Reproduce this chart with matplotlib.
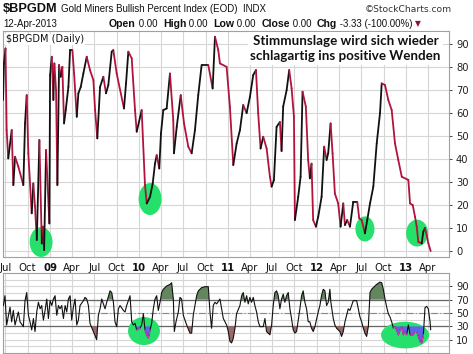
import numpy as np
import matplotlib
matplotlib.use('Agg')
import matplotlib.pyplot as plt
import matplotlib.dates as mdates
from matplotlib.collections import LineCollection
from matplotlib.patches import Ellipse
from datetime import datetime

# ---------------- data (time as decimal year) ----------------
bpi_time = [2008.472, 2008.483, 2008.500, 2008.513, 2008.531, 2008.570, 2008.588, 2008.607,
            2008.644, 2008.700, 2008.719, 2008.738, 2008.756, 2008.794, 2008.812, 2008.831,
            2008.851, 2008.880, 2008.907, 2008.918, 2008.933, 2008.955, 2008.992, 2009.000,
            2009.019, 2009.037, 2009.048, 2009.067, 2009.082, 2009.101, 2009.120, 2009.138,
            2009.157, 2009.176, 2009.206, 2009.225, 2009.251, 2009.270, 2009.300, 2009.318,
            2009.345, 2009.374, 2009.412, 2009.449, 2009.487, 2009.506, 2009.531, 2009.562,
            2009.599, 2009.629, 2009.655, 2009.693, 2009.711, 2009.749, 2009.831, 2009.854,
            2009.880, 2009.918, 2009.955, 2009.974, 2010.030, 2010.067, 2010.087, 2010.124,
            2010.154, 2010.180, 2010.199, 2010.228, 2010.247, 2010.273, 2010.311, 2010.348,
            2010.385, 2010.393, 2010.424, 2010.469, 2010.506, 2010.554, 2010.592, 2010.629,
            2010.666, 2010.704, 2010.779, 2010.828, 2010.854, 2010.891, 2010.910, 2010.985,
            2011.022, 2011.060, 2011.098, 2011.135, 2011.172, 2011.210, 2011.247, 2011.284,
            2011.315, 2011.340, 2011.367, 2011.397, 2011.435, 2011.472, 2011.491, 2011.517,
            2011.547, 2011.584, 2011.603, 2011.621, 2011.660, 2011.689, 2011.716, 2011.742,
            2011.753, 2011.790, 2011.817, 2011.839, 2011.876, 2011.902, 2011.921, 2011.940,
            2011.958, 2011.989, 2012.015, 2012.053, 2012.082, 2012.109, 2012.127, 2012.154,
            2012.176, 2012.202, 2012.239, 2012.266, 2012.296, 2012.315, 2012.340, 2012.371,
            2012.408, 2012.453, 2012.475, 2012.502, 2012.539, 2012.565, 2012.596, 2012.633,
            2012.671, 2012.708, 2012.727, 2012.764, 2012.801, 2012.839, 2012.876, 2012.913,
            2012.952, 2013.026, 2013.045, 2013.075, 2013.101, 2013.120, 2013.138, 2013.176,
            2013.194, 2013.213, 2013.233, 2013.251, 2013.277]
bpi_value = [65.7, 81.6, 88.1, 52.6, 40.3, 52.6, 28.7, 41.0,
             36.7, 28.7, 55.5, 67.8, 42.5, 16.4, 29.4, 19.3,
             4.8, 48.3, 3.3, 10.6, 0.4, 43.9, 12.0, 76.5,
             84.5, 65.7, 81.6, 70.0, 28.7, 80.9, 75.8, 80.1,
             55.5, 61.3, 71.4, 87.4, 87.4, 77.2, 58.4, 68.6,
             71.4, 77.2, 84.5, 78.7, 74.3, 61.3, 49.0, 71.4,
             75.8, 68.6, 72.2, 86.7, 87.4, 77.2, 62.0, 72.9,
             86.7, 83.8, 61.3, 51.9, 61.3, 28.7, 20.7, 23.6,
             29.4, 38.1, 41.7, 35.9, 51.2, 61.3, 62.0, 77.2,
             57.0, 42.5, 54.0, 67.8, 55.5, 45.4, 42.5, 52.6,
             67.8, 80.9, 80.9, 70.7, 93.2, 87.4, 81.6, 80.1,
             62.8, 37.4, 46.8, 52.6, 63.5, 60.0, 67.0, 76.5,
             78.7, 60.0, 44.6, 49.7, 44.6, 32.3, 28.0, 30.9,
             54.0, 56.1, 43.5, 62.8, 70.0, 78.7, 70.7, 58.4,
             13.5, 23.6, 32.3, 69.3, 62.8, 39.6, 31.6, 38.0,
             13.5, 10.6, 14.9, 23.6, 45.4, 39.6, 42.5, 55.5,
             42.5, 25.0, 20.7, 10.6, 20.7, 11.3, 13.5, 10.6,
             21.4, 21.4, 14.2, 13.5, 7.7, 13.5, 20.7, 28.0,
             46.8, 60.0, 72.9, 72.2, 65.7, 61.3, 46.8, 39.6,
             32.3, 30.9, 20.7, 20.0, 14.9, 10.6, 4.0, 3.3,
             8.4, 10.0, 6.7, 3.3, 0.0]

rsi_time = [2008.476, 2008.494, 2008.513, 2008.551, 2008.569, 2008.588, 2008.607, 2008.644,
            2008.663, 2008.700, 2008.719, 2008.738, 2008.757, 2008.775, 2008.794, 2008.813,
            2008.831, 2008.850, 2008.869, 2008.888, 2008.906, 2008.925, 2008.944, 2008.963,
            2008.981, 2009.000, 2009.019, 2009.037, 2009.056, 2009.075, 2009.094, 2009.112,
            2009.131, 2009.150, 2009.169, 2009.187, 2009.206, 2009.225, 2009.243, 2009.262,
            2009.281, 2009.300, 2009.318, 2009.337, 2009.375, 2009.393, 2009.412, 2009.431,
            2009.449, 2009.487, 2009.524, 2009.543, 2009.562, 2009.581, 2009.599, 2009.618,
            2009.637, 2009.674, 2009.693, 2009.712, 2009.730, 2009.749, 2009.768, 2009.787,
            2009.824, 2009.843, 2009.861, 2009.899, 2009.918, 2009.936, 2009.955, 2009.974,
            2010.011, 2010.030, 2010.049, 2010.067, 2010.086, 2010.105, 2010.124, 2010.142,
            2010.161, 2010.180, 2010.199, 2010.217, 2010.236, 2010.255, 2010.273, 2010.311,
            2010.348, 2010.367, 2010.386, 2010.397, 2010.416, 2010.442, 2010.461, 2010.479,
            2010.498, 2010.536, 2010.573, 2010.592, 2010.610, 2010.648, 2010.667, 2010.704,
            2010.742, 2010.779, 2010.798, 2010.816, 2010.835, 2010.854, 2010.873, 2010.910,
            2010.948, 2010.985, 2011.004, 2011.022, 2011.041, 2011.060, 2011.079, 2011.097,
            2011.135, 2011.154, 2011.172, 2011.191, 2011.210, 2011.228, 2011.247, 2011.266,
            2011.285, 2011.303, 2011.322, 2011.341, 2011.360, 2011.397, 2011.416, 2011.434,
            2011.453, 2011.472, 2011.491, 2011.509, 2011.528, 2011.547, 2011.566, 2011.584,
            2011.603, 2011.622, 2011.640, 2011.659, 2011.678, 2011.697, 2011.715, 2011.734,
            2011.753, 2011.772, 2011.809, 2011.828, 2011.846, 2011.865, 2011.884, 2011.903,
            2011.921, 2011.940, 2011.959, 2011.978, 2012.015, 2012.034, 2012.052, 2012.071,
            2012.090, 2012.109, 2012.127, 2012.146, 2012.157, 2012.184, 2012.202, 2012.221,
            2012.240, 2012.258, 2012.277, 2012.296, 2012.315, 2012.333, 2012.352, 2012.371,
            2012.390, 2012.408, 2012.446, 2012.464, 2012.483, 2012.502, 2012.521, 2012.539,
            2012.558, 2012.577, 2012.596, 2012.614, 2012.633, 2012.670, 2012.708, 2012.727,
            2012.745, 2012.764, 2012.783, 2012.801, 2012.820, 2012.839, 2012.858, 2012.876,
            2012.895, 2012.914, 2012.933, 2012.951, 2012.970, 2012.989, 2013.007, 2013.026,
            2013.045, 2013.082, 2013.101, 2013.120, 2013.139, 2013.157, 2013.176, 2013.195,
            2013.213, 2013.232, 2013.251, 2013.270, 2013.277]
rsi_value = [61.2, 75.9, 32.0, 58.8, 36.8, 53.9, 32.0, 51.5,
             36.8, 29.5, 68.5, 80.7, 46.6, 36.8, 24.6, 41.7,
             22.2, 51.5, 66.1, 56.3, 61.2, 39.3, 53.9, 71.0,
             41.7, 68.5, 61.2, 71.0, 75.9, 46.6, 61.2, 56.3,
             61.2, 41.7, 61.2, 51.5, 71.0, 75.9, 39.3, 58.8,
             71.0, 32.0, 39.3, 61.2, 68.5, 73.4, 71.0, 61.2,
             34.4, 22.2, 10.0, 46.6, 56.3, 71.0, 63.7, 56.3,
             66.1, 83.2, 80.7, 66.1, 36.8, 29.5, 56.3, 61.2,
             53.9, 51.5, 61.2, 75.9, 36.8, 32.0, 34.4, 24.6,
             27.1, 32.0, 49.0, 24.6, 17.3, 12.4, 24.6, 34.4,
             56.3, 71.0, 75.9, 53.9, 66.1, 80.7, 85.6, 90.5,
             92.9, 95.4, 71.0, 22.2, 36.8, 51.5, 73.4, 71.0,
             46.6, 32.0, 19.8, 19.8, 46.6, 75.9, 83.2, 88.0,
             89.5, 89.5, 51.5, 27.1, 61.2, 66.1, 63.7, 71.0,
             41.7, 32.0, 22.2, 7.6, 5.1, 12.4, 27.1, 49.0,
             61.2, 75.9, 80.7, 66.1, 75.9, 63.7, 73.4, 66.1,
             73.4, 61.2, 51.5, 36.8, 29.5, 29.5, 41.7, 22.2,
             19.8, 17.3, 32.0, 61.2, 80.7, 83.2, 75.9, 56.3,
             71.0, 78.3, 66.1, 75.9, 80.7, 56.3, 41.7, 24.6,
             19.8, 22.2, 56.3, 75.9, 83.2, 66.1, 56.3, 36.8,
             36.8, 27.1, 22.2, 29.5, 51.5, 61.2, 75.9, 85.6,
             83.2, 61.2, 66.1, 85.6, 66.1, 41.7, 32.0, 27.1,
             24.6, 22.2, 14.9, 22.2, 36.8, 46.6, 56.3, 53.9,
             61.2, 68.5, 68.5, 56.3, 44.1, 36.8, 27.1, 19.8,
             14.9, 29.5, 80.7, 85.6, 88.0, 92.9, 96.3, 95.4,
             85.6, 71.0, 58.8, 49.0, 44.1, 36.8, 27.1, 29.5,
             24.6, 17.3, 24.6, 29.5, 17.3, 22.2, 17.3, 32.0,
             17.3, 17.3, 22.2, 22.2, 14.9, 7.6, 5.1, 17.3,
             58.0, 60.0, 56.0, 36.8, 25.0]

tick_dates = ['2008-07-01', '2008-10-01', '2009-01-01', '2009-04-01', '2009-07-01', '2009-10-01',
              '2010-01-01', '2010-04-01', '2010-07-01', '2010-10-01', '2011-01-01', '2011-04-01',
              '2011-07-01', '2011-10-01', '2012-01-01', '2012-04-01', '2012-07-01', '2012-10-01',
              '2013-01-01', '2013-04-01']
tick_labels = ['Jul', 'Oct', '09', 'Apr', 'Jul', 'Oct', '10', 'Apr', 'Jul', 'Oct', '11', 'Apr',
               'Jul', 'Oct', '12', 'Apr', 'Jul', 'Oct', '13', 'Apr']

# annotation ellipses: (decimal year, value, width in days, height in value units)
main_circles = [(2008.899, 3.9, 94, 13.0), (2010.124, 22.6, 94, 13.9),
                (2012.539, 9.6, 78, 10.9), (2013.124, 7.8, 90, 11.7)]
rsi_circles = [(2010.056, 22.9, 131, 42), (2012.989, 16.9, 197, 40)]
rsi_zones = [(2009.92, 2010.16), (2012.84, 2013.26)]


def yr2num(vals):
    out = []
    for v in np.atleast_1d(np.asarray(vals, float)):
        yi = int(np.floor(v))
        a = mdates.date2num(datetime(yi, 1, 1))
        b = mdates.date2num(datetime(yi + 1, 1, 1))
        out.append(a + (v - yi) * (b - a))
    return np.array(out)


W, H = 473, 354
fig = plt.figure(figsize=(W / 100, H / 100), dpi=100)
fig.patch.set_facecolor('white')

def px_axes(x0, y0, x1, y1):
    return fig.add_axes([x0 / W, 1 - y1 / H, (x1 - x0) / W, (y1 - y0) / H])

ax1 = px_axes(3, 31, 449, 257)
ax2 = px_axes(3, 273, 449, 353)

xmin, xmax = yr2num([2008.472, 2013.483])
tick_nums = mdates.datestr2num(tick_dates)
GRID = '#d6d6d6'
BORDER = '#a0a0a0'

for ax in (ax1, ax2):
    ax.set_xlim(xmin, xmax)
    ax.set_xticks(tick_nums)
    for t in tick_nums:
        ax.axvline(t, color=GRID, lw=0.8, zorder=0)
    for s in ax.spines.values():
        s.set_color(BORDER)
        s.set_linewidth(0.8)
    ax.yaxis.tick_right()
    ax.tick_params(axis='y', length=2, pad=3, labelsize=7.2, colors='#222222', width=0.6)
    ax.tick_params(axis='x', length=0)

# ---- main panel ----
ax1.set_ylim(-2.6, 95.7)
for v in range(0, 100, 10):
    ax1.axhline(v, color=GRID, lw=0.8, zorder=0)
ax1.set_yticks(range(0, 100, 10))

for (cx, cy, w, h) in main_circles:
    ax1.add_patch(Ellipse((yr2num(cx)[0], cy), w, h, facecolor='#25e06a', edgecolor='none', zorder=1))

bx = yr2num(bpi_time)
by = np.array(bpi_value)
pts = np.column_stack([bx, by])
segs = np.stack([pts[:-1], pts[1:]], axis=1)
cols = ['#111111' if by[i + 1] >= by[i] else '#b0143e' for i in range(len(by) - 1)]
ax1.add_collection(LineCollection(segs, colors=cols, linewidths=1.3, zorder=3,
                                  capstyle='round', joinstyle='round'))

ax1.set_xticklabels(tick_labels, fontsize=7.3, color='#111111', family='DejaVu Sans')
ax1.tick_params(axis='x', pad=4)
for lab in ax1.get_xticklabels():
    if lab.get_text().isdigit():
        lab.set_fontweight('bold')

ax1.text(0.006, 0.985, '$BPGDM (Daily)', transform=ax1.transAxes, fontsize=7, va='top', ha='left',
         family='DejaVu Sans', color='#111111', zorder=5,
         bbox=dict(facecolor='white', edgecolor='none', pad=0.6))

fig.text(345.5 / W, 1 - 48.5 / H, 'Stimmunslage wird sich wieder\nschlagartig ins positive Wenden',
         ha='center', va='center', fontsize=9.6, fontweight='bold', family='Lato', color='#111111',
         linespacing=1.25, zorder=6,
         bbox=dict(facecolor='white', edgecolor='none', pad=2))

# ---- RSI panel ----
ax2.set_ylim(-10, 110)
for v in range(0, 101, 10):
    ax2.axhline(v, color=GRID, lw=0.8, zorder=0)
ax2.axhline(70, color='#666666', lw=0.9, zorder=1)
ax2.axhline(30, color='#666666', lw=0.9, zorder=1)
ax2.axhline(50, color='#888888', lw=0.8, ls=(0, (6, 2, 1, 2)), zorder=1)
ax2.set_yticks([10, 30, 50, 70, 90])
ax2.set_xticklabels([])

for (cx, cy, w, h) in rsi_circles:
    ax2.add_patch(Ellipse((yr2num(cx)[0], cy), w, h, facecolor='#25e06a', edgecolor='none', zorder=1.5))

rx = yr2num(rsi_time)
ry = np.array(rsi_value)
rt = np.array(rsi_time)
zone = np.zeros(len(rt), bool)
for a, b in rsi_zones:
    zone |= (rt >= a) & (rt <= b)
ax2.fill_between(rx, ry, 70, where=ry > 70, interpolate=True, color='#64865f', lw=0, zorder=2)
ax2.fill_between(rx, ry, 30, where=(ry < 30) & ~zone, interpolate=True, color='#9a6a6a', lw=0, zorder=2)
ax2.fill_between(rx, ry, 30, where=(ry < 30) & zone, interpolate=True, color='#5b66e8', lw=0, zorder=2)
ax2.plot(rx, ry, color='#111111', lw=0.8, zorder=3)
zx = np.where(zone, ry, np.nan)
ax2.plot(rx, np.where(ry < 31, zx, np.nan), color='#d03cc4', lw=0.9, zorder=3.5)

# ---- header ----
fig.text(3 / W, 1 - 9 / H, '$BPGDM', fontsize=9.2, fontweight='bold', family='Liberation Sans',
         va='center', ha='left', color='#111111')
fig.text(61 / W, 1 - 9 / H, 'Gold Miners Bullish Percent Index (EOD)  INDX', fontsize=7,
         family='Liberation Sans', va='center', ha='left', color='#111111')
fig.text(452 / W, 1 - 9 / H, '\u00a9StockCharts.com', fontsize=6.6, family='DejaVu Sans',
         va='center', ha='right', color='#333333')
fig.text(3 / W, 1 - 24 / H, '12-Apr-2013', fontsize=7, family='Liberation Sans',
         va='center', ha='left', color='#111111')

pieces = [('Open', True), (' 0.00  ', False), ('High', True), (' 0.00  ', False),
          ('Low', True), (' 0.00  ', False), ('Close', True), (' 0.00  ', False),
          ('Chg', True), (' -3.33 (-100.00%)', False)]
renderer = fig.canvas.get_renderer()
xpos = 109
for txt, bold in pieces:
    t = fig.text(xpos / W, 1 - 24 / H, txt, fontsize=7.6 if bold else 7, family='Liberation Sans',
                 fontweight='bold' if bold else 'normal', va='center', ha='left', color='#111111')
    xpos += t.get_window_extent(renderer).width
fig.text((xpos + 3) / W, 1 - 24 / H, '\u25bc', fontsize=5.5, family='DejaVu Sans',
         va='center', ha='left', color='#8b1538')

fig.savefig('out.png', dpi=100, facecolor='white')
